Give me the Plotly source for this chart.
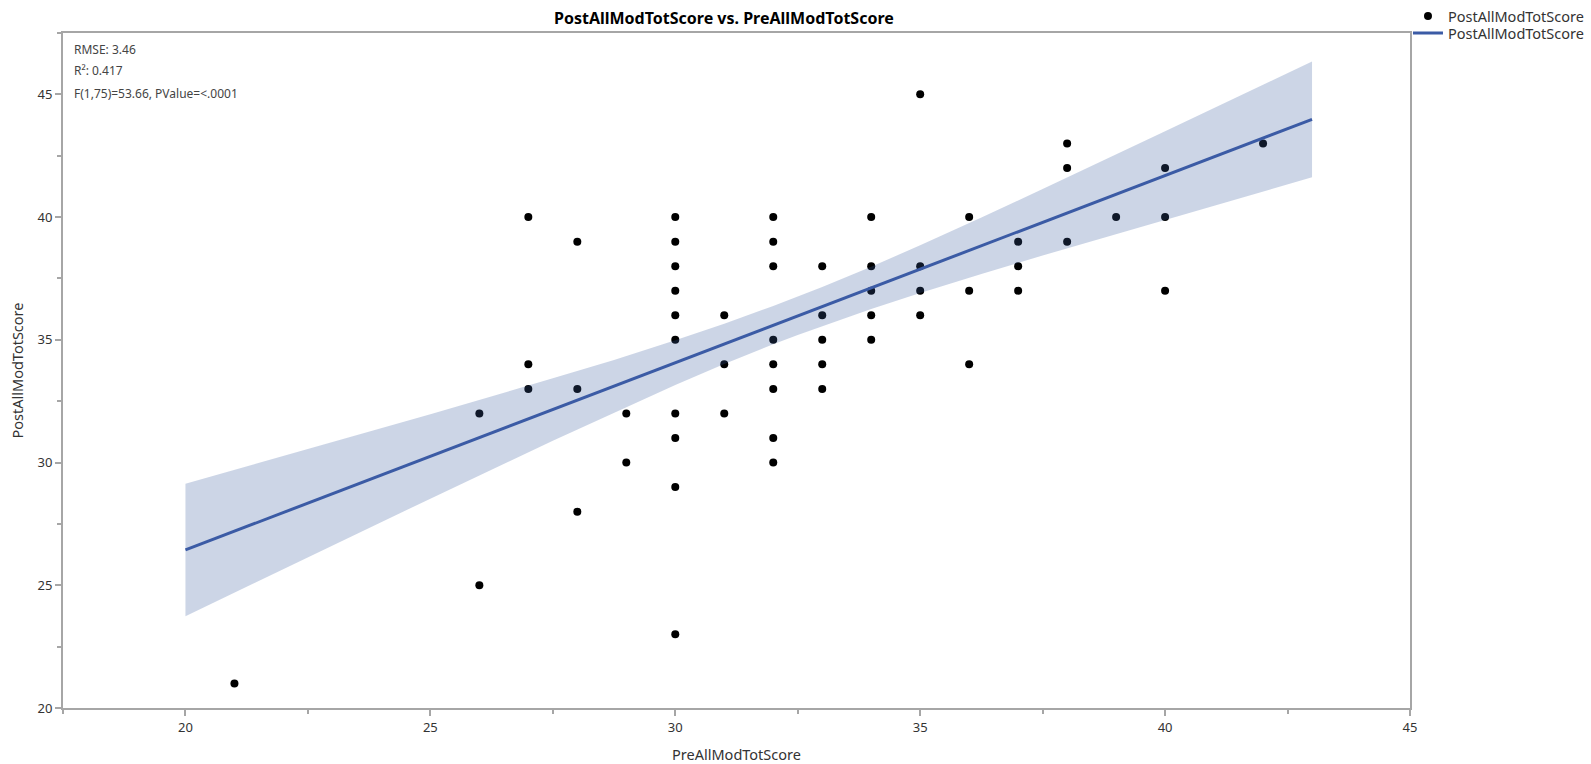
import plotly.graph_objects as go

# ---- data ----
pre = [21,
       26, 26,
       27, 27, 27,
       28, 28, 28,
       29, 29,
       30, 30, 30, 30, 30, 30, 30, 30, 30, 30,
       31, 31, 31,
       32, 32, 32, 32, 32, 32, 32, 32,
       33, 33, 33, 33, 33,
       34, 34, 34, 34, 34,
       35, 35, 35, 35,
       36, 36, 36,
       37, 37, 37,
       38, 38, 38,
       39,
       40, 40, 40,
       42]
post = [21,
        32, 25,
        40, 34, 33,
        39, 33, 28,
        32, 30,
        40, 39, 38, 37, 36, 35, 32, 31, 29, 23,
        36, 34, 32,
        40, 39, 38, 35, 34, 33, 31, 30,
        38, 36, 35, 34, 33,
        40, 38, 37, 36, 35,
        45, 38, 37, 36,
        40, 37, 34,
        39, 38, 37,
        43, 42, 39,
        40,
        42, 40, 37,
        43]

fit_x = [20, 43]
fit_y = [26.44, 43.98]

band_x = [20, 22.5, 25, 27.5, 28.75, 30, 31, 32, 32.5, 33, 34, 35, 36.25, 37.5, 40, 43]
band_lo = [23.74, 26.15, 28.53, 30.89, 32.04, 33.16, 34.01, 34.82, 35.20, 35.57,
           36.26, 36.91, 37.68, 38.44, 39.88, 41.62]
band_hi = [29.14, 30.55, 31.97, 33.43, 34.18, 34.98, 35.65, 36.38, 36.76, 37.15,
           37.98, 38.85, 39.98, 41.14, 43.50, 46.34]

stats = ["RMSE: 3.46", "R²: 0.417", "F(1,75)=53.66, PValue=<.0001"]
stats_y = [0.975, 0.944, 0.910]

x_ticks = [20, 25, 30, 35, 40, 45]
y_ticks = [20, 25, 30, 35, 40, 45]

FONT = "Noto Sans"
AXIS_GREY = "#a6a6a6"
LINE_BLUE = "#3b5ba5"

fig = go.Figure()

fig.add_trace(go.Scatter(
    x=pre, y=post, mode="markers", name="PostAllModTotScore",
    marker=dict(color="black", size=8), legend="legend",
))

fig.add_trace(go.Scatter(
    x=band_x + band_x[::-1], y=band_hi + band_lo[::-1],
    mode="lines", fill="toself", fillcolor="rgba(59,94,157,0.26)",
    line=dict(width=0, color="rgba(0,0,0,0)"), showlegend=False, hoverinfo="skip",
))

fig.add_trace(go.Scatter(
    x=fit_x, y=fit_y, mode="lines", name="PostAllModTotScore",
    line=dict(color=LINE_BLUE, width=3), legend="legend2",
))

axis_common = dict(
    showline=True, linecolor=AXIS_GREY, linewidth=2, mirror=True,
    showgrid=False, zeroline=False,
    ticks="outside", ticklen=6, tickwidth=1.5, tickcolor=AXIS_GREY,
    tickfont=dict(family=FONT, size=13, color="#333333"),
)

fig.update_xaxes(
    range=[17.5, 45], tickvals=x_ticks,
    minor=dict(ticks="outside", ticklen=4, tickwidth=1.5, tickcolor=AXIS_GREY,
               tick0=17.5, dtick=2.5),
    title=dict(text="PreAllModTotScore", font=dict(family=FONT, size=14.5, color="#333333"),
               standoff=15),
    automargin=False,
    **axis_common,
)
fig.update_yaxes(
    range=[20, 47.5], tickvals=y_ticks,
    minor=dict(ticks="outside", ticklen=4, tickwidth=1.5, tickcolor=AXIS_GREY,
               tick0=17.5, dtick=2.5),
    title=dict(text="PostAllModTotScore", font=dict(family=FONT, size=14.5, color="#333333"),
               standoff=10),
    automargin=False,
    **axis_common,
)

for txt, yy in zip(stats, stats_y):
    fig.add_annotation(
        x=0.0067, y=yy, xref="paper", yref="paper", text=txt, showarrow=False,
        xanchor="left", yanchor="middle",
        font=dict(family=FONT, size=12, color="#444444"),
    )

legend_common = dict(
    x=0.9985, xref="paper", yref="container", xanchor="left", yanchor="top",
    font=dict(family=FONT, size=14.5, color="#333333"),
    bgcolor="rgba(0,0,0,0)", itemwidth=30,
)

fig.update_layout(
    width=1591, height=764,
    margin=dict(l=63, r=181, t=33, b=56, autoexpand=False),
    paper_bgcolor="white", plot_bgcolor="white",
    title=dict(text="<b>PostAllModTotScore vs. PreAllModTotScore</b>",
               x=0.455, xref="container", xanchor="center",
               y=0.976, yref="container", yanchor="middle",
               font=dict(family=FONT, size=16, color="black")),
    legend=dict(y=1.0, **legend_common),
    legend2=dict(y=0.9775, **legend_common),
    showlegend=True,
)

fig.write_html("out.html")
